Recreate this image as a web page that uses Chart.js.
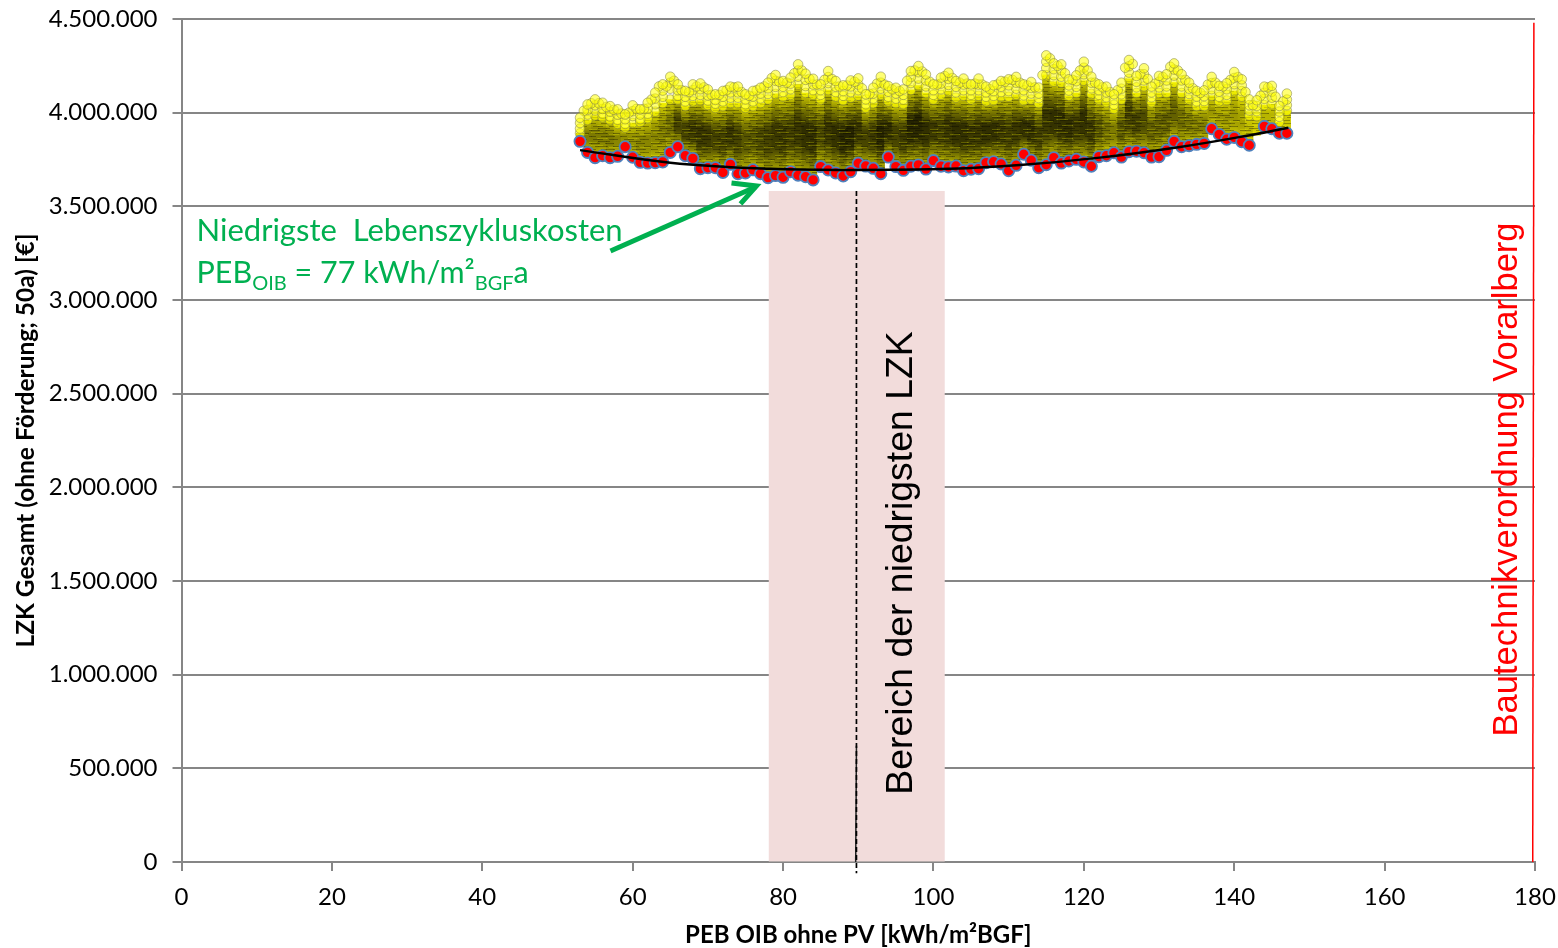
<!DOCTYPE html>
<html>
<head>
<meta charset="utf-8">
<title>LZK Gesamt</title>
<script src="https://cdn.jsdelivr.net/npm/chart.js@4"></script>
<style>
html,body{margin:0;padding:0;background:#fff;}
canvas{display:block;}
</style>
</head>
<body>
<canvas id="chart" width="1558" height="948"></canvas>
<script>
// ---------- Data (LZK values in thousand €) ----------

const yTickLabels = ["0","500.000","1.000.000","1.500.000","2.000.000","2.500.000","3.000.000","3.500.000","4.000.000","4.500.000"];

const cloudX = [53,54,55,56,57,58,59,60,61,62,63,64,65,66,67,68,69,70,71,72,73,74,75,76,77,78,79,80,81,82,83,84,85,86,87,88,89,90,91,92,93,94,95,96,97,98,99,100,101,102,103,104,105,106,107,108,109,110,111,112,113,114,115,116,117,118,119,120,121,122,123,124,125,126,127,128,129,130,131,132,133,134,135,136,137,138,139,140,141,142,143,144,145,146,147];

// lowest cost per PEB value, nothing found at 143
const minCost = [3847,3788,3760,3770,3760,3767,3818,3762,3735,3731,3733,3737,3788,3818,3770,3756,3701,3706,3706,3681,3724,3674,3678,3695,3674,
  3653,3664,3655,3685,3666,3658,3641,3712,3694,3678,3662,3685,3730,3715,3703,3674,3763,3712,3692,3714,3721,3699,3744,3714,3710,
  3715,3690,3698,3701,3733,3738,3726,3690,3719,3778,3746,3706,3722,3760,3731,3742,3751,3737,3714,3765,3770,3786,3763,3792,
  3794,3786,3763,3765,3799,3847,3818,3824,3831,3836,3914,3884,3858,3868,3845,3826,null,3927,3914,3890,3890];

// upper rim of the yellow cloud, topmost marker and the two rows under it
const cloudTop = [3973,4044,4071,4053,4035,4018,3991,4039,4018,4053,
  4107,4151,4192,4151,4116,4151,4156,4124,4098,4116,
  4139,4139,4098,4116,4133,4160,4201,4169,4187,4258,
  4208,4181,4151,4222,4169,4146,4172,4183,4098,4133,
  4192,4142,4133,4124,4222,4249,4204,4151,4187,4213,
  4169,4182,4151,4182,4139,4146,4169,4178,4191,4151,
  4164,4134,4306,4263,4258,4178,4199,4272,4192,4151,
  4139,4098,4160,4281,4196,4237,4139,4196,4205,4263,
  4205,4160,4116,4119,4191,4143,4157,4217,4178,4071,
  4066,4139,4143,4036,4102];
const cloudRow2 = [3945,4015,4040,4020,4005,3990,3965,4008,3990,4022,
  4075,4118,4160,4120,4085,4120,4125,4092,4068,4085,
  4108,4108,4070,4086,4102,4130,4170,4138,4155,4225,
  4175,4150,4120,4190,4138,4115,4140,4150,4070,4102,
  4160,4112,4102,4095,4190,4216,4172,4120,4155,4180,
  4138,4150,4120,4150,4108,4115,4138,4146,4160,4120,
  4132,4102,4272,4232,4226,4146,4168,4240,4160,4120,
  4108,4068,4128,4248,4165,4205,4108,4165,4172,4230,
  4172,4128,4086,4088,4158,4112,4125,4185,4146,4040,
  4036,4106,4112,4006,4070];
const cloudRow3 = [3915,3990,4012,3995,3980,3962,3940,3982,3965,3995,
  4045,4085,4128,4090,4060,4090,4095,4065,4048,4060,
  4080,4080,4045,4060,4076,4100,4138,4110,4125,4192,
  4142,4120,4095,4158,4110,4090,4110,4120,4045,4075,
  4128,4085,4075,4070,4158,4182,4140,4095,4125,4148,
  4108,4120,4095,4120,4085,4090,4110,4115,4128,4092,
  4102,4078,4238,4200,4192,4118,4138,4205,4130,4095,
  4082,4042,4098,4214,4135,4172,4082,4135,4140,4198,
  4140,4100,4060,4062,4125,4085,4095,4152,4115,4012,
  4008,4074,4080,3978,4040];

// rim between the whole-number columns
const cloudMidX = [53.5,54.5,55.5,56.5,57.5,58.5,59.5,60.5,61.5,62.5,63.5,64.5,65.5,66.5,67.5,68.5,69.5,70.5,71.5,72.5,73.5,74.5,75.5,76.5,77.5,78.5,79.5,80.5,81.5,82.5,83.5,84.5,85.5,86.5,87.5,88.5,89.5,90.5,91.5,92.5,93.5,94.5,95.5,96.5,97.5,98.5,99.5,100.5,101.5,102.5,103.5,104.5,105.5,106.5,107.5,108.5,109.5,110.5,111.5,112.5,113.5,114.5,115.5,116.5,117.5,118.5,119.5,120.5,121.5,122.5,123.5,124.5,125.5,126.5,127.5,128.5,129.5,130.5,131.5,132.5,133.5,134.5,135.5,136.5,137.5,138.5,139.5,140.5,141.5,142.5,143.5,144.5,145.5,146.5];
const cloudMid = [4010,4050,4050,4030,4015,3995,4000,4020,4020,4070,
  4140,4140,4170,4120,4110,4140,4135,4095,4095,4120,
  4135,4110,4090,4120,4140,4185,4165,4160,4210,4225,
  4180,4150,4175,4180,4140,4145,4165,4130,4100,4155,
  4150,4125,4115,4170,4225,4220,4165,4150,4195,4185,
  4160,4155,4155,4150,4125,4150,4165,4175,4160,4145,
  4135,4200,4290,4250,4210,4175,4225,4225,4160,4135,
  4110,4120,4240,4260,4205,4180,4155,4190,4245,4225,
  4175,4130,4105,4150,4160,4140,4175,4190,4110,4040,
  4090,4135,4085,4060];

// top of the densely packed part of the cloud
const cloudBody = [3890,3960,3985,3975,3960,3940,3920,3945,3950,3970,
  4005,4050,4070,4070,4035,4060,4065,4040,4025,4035,
  4050,4050,4025,4035,4050,4070,4100,4085,4095,4150,
  4105,4095,4070,4120,4085,4065,4080,4090,4025,4050,
  4095,4060,4050,4045,4120,4145,4105,4070,4095,4115,
  4080,4090,4070,4090,4060,4065,4085,4085,4095,4065,
  4070,4050,4200,4165,4160,4090,4105,4170,4100,4070,
  4055,4020,4070,4180,4105,4140,4055,4105,4105,4160,
  4105,4070,4035,4035,4090,4060,4065,4115,4085,3985,
  3980,4040,4045,3950,4010];

// how closely the variants overlap in each column, 0 to 1
const cloudDensity = [.5,.55,.55,.55,.55,.5,.45,.45,.5,.5,
  .5,.55,.6,.85,.85,.9,.9,.9,.85,.85,
  .9,.85,.75,.75,.8,.85,.9,.9,.85,.9,
  .95,.95,.8,.9,.95,1,1,.9,.85,.9,
  1,.95,.85,.9,1,1,.95,.9,.85,.9,
  .95,.95,.9,.9,.95,.95,.9,.85,.9,.95,
  .95,.85,.9,.95,.95,.95,.9,.95,.9,.75,
  .6,.55,.75,.85,.85,.8,.7,.7,.7,.7,
  .65,.6,.55,.55,.4,.4,.4,.4,.35,.25,
  .15,.25,.25,.15,.15];

const trendX = [53,65,78.3,88.9,102.2,111.5,122.1,132.8,142.1,147.2];
const trendY = [3800,3733,3700,3694,3700,3720,3760,3817,3880,3920];

const xTitle = "PEB OIB ohne PV [kWh/m²BGF]";
const yTitle = "LZK Gesamt (ohne Förderung; 50a) [€]";

// optimum range, limit line and its label
const rangeFrom = 78.1, rangeTo = 101.5, rangeTop = 3582;
const rangeLineX = [89.76,89.76], rangeLineY = [3582,-60];
const rangeCoreX = [89.76,89.66], rangeCoreY = [620,0];
const limitX = [179.85,179.7], limitY = [4480,0];

// ---------- Helpers ----------

const toPoints = (xs, ys) => xs.map((x, i) => ({x: x, y: ys[i] === null ? null : ys[i] * 1000}));

const cloudBottom = minCost.map(v => v === null ? 3880 : v);
const cloudBars = cloudX.map((x, i) => ({x: x, y: [cloudBottom[i] * 1000, cloudBody[i] * 1000]}));

function mix(t) {
  const a = [232, 228, 0], b = [36, 34, 0];
  return "rgb(" + a.map((c, i) => Math.round(c + (b[i] - c) * t)).join(",") + ")";
}

// one vertical gradient per column, darkest where the variants pile up
function cloudFill(ctx) {
  if (ctx.dataIndex === undefined) return "#d8d400";
  const scale = ctx.chart.scales.y;
  const i = ctx.dataIndex;
  const top = scale.getPixelForValue(cloudBody[i] * 1000);
  const bottom = scale.getPixelForValue(cloudBottom[i] * 1000);
  if (!isFinite(top) || !isFinite(bottom)) return "#d8d400";
  const g = ctx.chart.ctx.createLinearGradient(0, top, 0, bottom);
  const d = cloudDensity[i];
  g.addColorStop(0, mix(0.05));
  g.addColorStop(0.15, mix(d * 0.5));
  g.addColorStop(0.4, mix(d));
  g.addColorStop(0.65, mix(d * 0.95));
  g.addColorStop(0.85, mix(d * 0.55));
  g.addColorStop(1, mix(d * 0.2));
  return g;
}

// fine horizontal streaks left by the marker outlines
function streakPattern() {
  const c = document.createElement("canvas");
  c.width = 31; c.height = 13;
  const p = c.getContext("2d");
  p.fillStyle = "rgba(0,0,0,0.3)";
  p.fillRect(0, 0, 11, 1); p.fillRect(16, 0, 9, 1);
  p.fillRect(6, 3, 13, 1); p.fillRect(24, 3, 7, 1);
  p.fillRect(0, 6, 7, 1); p.fillRect(12, 6, 14, 1);
  p.fillRect(4, 9, 10, 1); p.fillRect(20, 9, 9, 1);
  p.fillRect(9, 11, 12, 1);
  p.fillStyle = "rgba(255,255,0,0.22)";
  p.fillRect(2, 2, 12, 1); p.fillRect(20, 4, 10, 1);
  p.fillRect(8, 8, 11, 1); p.fillRect(0, 12, 8, 1);
  return p.createPattern(c, "repeat");
}

function cloudMarkers(xs, ys, order) {
  return {
    type: "scatter",
    data: toPoints(xs, ys),
    order: order,
    pointRadius: 4.8,
    pointBackgroundColor: "rgba(255,255,0,0.55)",
    pointBorderColor: "rgba(120,120,70,0.5)",
    pointBorderWidth: 1
  };
}

// ---------- Annotations ----------

const annotations = {
  id: "annotations",
  beforeDatasetsDraw(chart) {
    const {ctx, scales: {x, y}} = chart;
    ctx.save();
    ctx.fillStyle = "#f2dcdb";
    const left = x.getPixelForValue(rangeFrom), top = y.getPixelForValue(rangeTop * 1000);
    ctx.fillRect(left, top, x.getPixelForValue(rangeTo) - left, y.getPixelForValue(3000) - top);
    ctx.restore();
  },
  afterDatasetsDraw(chart) {
    const {ctx, scales: {x, y}} = chart;
    ctx.save();

    // rotated labels
    ctx.textAlign = "center";
    ctx.textBaseline = "alphabetic";
    ctx.save();
    ctx.translate(x.getPixelForValue(97.1), y.getPixelForValue(1596000));
    ctx.rotate(-Math.PI / 2);
    ctx.fillStyle = "#000";
    ctx.font = "37.4px 'Liberation Sans'";
    ctx.fillText("Bereich der niedrigsten LZK", 0, 0);
    ctx.restore();
    ctx.save();
    ctx.translate(x.getPixelForValue(177.6), y.getPixelForValue(2042000));
    ctx.rotate(-Math.PI / 2);
    ctx.fillStyle = "#ff0000";
    ctx.font = "34.5px 'Liberation Sans'";
    ctx.fillText("Bautechnikverordnung Vorarlberg", 0, 0);
    ctx.restore();

    // green note
    ctx.textAlign = "left";
    ctx.fillStyle = "#00b050";
    const nx = x.getPixelForValue(2.0);
    const line1 = y.getPixelForValue(3315000), line2 = y.getPixelForValue(3090000);
    ctx.font = "31px Lato";
    ctx.fillText("Niedrigste  Lebenszykluskosten", nx, line1);
    let cx = nx;
    const put = (text, size, shift) => {
      ctx.font = size + "px Lato";
      ctx.fillText(text, cx, line2 + shift);
      cx += ctx.measureText(text).width;
    };
    put("PEB", 30.5, 0); put("OIB", 20, 7); put(" = 77 kWh/m²", 30.5, 0); put("BGF", 20, 7); put("a", 30.5, 0);

    // green arrow to the minimum
    const sx = x.getPixelForValue(57.05), sy = y.getPixelForValue(3262000);
    const tx = x.getPixelForValue(76.6), ty = y.getPixelForValue(3609000);
    ctx.strokeStyle = "#00b050";
    ctx.lineWidth = 5;
    ctx.beginPath();
    ctx.moveTo(sx, sy); ctx.lineTo(tx - 2, ty + 1);
    ctx.stroke();
    ctx.lineJoin = "miter";
    ctx.beginPath();
    ctx.moveTo(tx - 26, ty - 3); ctx.lineTo(tx - 1, ty); ctx.lineTo(tx - 17, ty + 18);
    ctx.stroke();
    ctx.restore();
  }
};

// ---------- Chart ----------

new Chart(document.getElementById("chart"), {
  type: "scatter",
  data: {
    datasets: [
      {
        type: "line",
        data: toPoints(trendX, trendY),
        order: 0,
        borderColor: "#000",
        borderWidth: 2.5,
        pointRadius: 0,
        tension: 0.4
      },
      {
        type: "scatter",
        data: toPoints(cloudX, minCost),
        order: 1,
        pointRadius: 5.6,
        pointBackgroundColor: "#ff0000",
        pointBorderColor: "#4f81bd",
        pointBorderWidth: 1.8
      },
      cloudMarkers(cloudX, cloudTop, 2),
      cloudMarkers(cloudMidX, cloudMid, 3),
      cloudMarkers(cloudX, cloudRow2, 4),
      cloudMarkers(cloudX, cloudRow3, 5),
      cloudMarkers(cloudX, cloudBody, 6),
      {
        type: "bar",
        data: cloudBars,
        order: 7,
        backgroundColor: streakPattern(),
        barPercentage: 1,
        categoryPercentage: 1,
        grouped: false
      },
      {
        type: "bar",
        data: cloudBars,
        order: 8,
        backgroundColor: cloudFill,
        barPercentage: 1,
        categoryPercentage: 1,
        grouped: false
      },
      {
        type: "line",
        data: toPoints(rangeLineX, rangeLineY),
        order: 9,
        borderColor: "#000",
        borderWidth: 1.7,
        borderDash: [5, 3],
        pointRadius: 0,
        clip: false
      },
      {
        type: "line",
        data: toPoints(rangeCoreX, rangeCoreY),
        order: 9,
        borderColor: "#222",
        borderWidth: 1.5,
        pointRadius: 0
      },
      {
        type: "line",
        data: toPoints(limitX, limitY),
        order: 9,
        borderColor: "#ff0000",
        borderWidth: 1.5,
        pointRadius: 0,
        clip: false
      }
    ]
  },
  options: {
    responsive: false,
    animation: false,
    layout: {padding: {top: 19, right: 23, bottom: 0, left: 0}},
    plugins: {legend: {display: false}, tooltip: {enabled: false}},
    scales: {
      x: {
        type: "linear",
        min: 0,
        max: 180,
        offset: false,
        afterFit(scale) { scale.height = 86; scale.paddingLeft = 0; scale.paddingRight = 0; },
        border: {color: "#868686", width: 2},
        grid: {offset: false, drawOnChartArea: false, color: "#868686", lineWidth: 2, tickLength: 9},
        ticks: {stepSize: 20, color: "#000", font: {family: "Lato", size: 24}, padding: 12, maxRotation: 0},
        title: {display: true, text: xTitle, color: "#000", font: {family: "Lato", size: 24, weight: "bold"}, padding: {top: 0, bottom: -2}}
      },
      y: {
        min: 0,
        max: 4500000,
        afterFit(scale) { scale.width = 181.5; scale.paddingTop = 0; scale.paddingBottom = 0; },
        border: {color: "#868686", width: 2},
        grid: {color: "#868686", lineWidth: 2, tickLength: 9},
        ticks: {
          stepSize: 500000,
          color: "#000",
          font: {family: "Lato", size: 24},
          padding: 15,
          callback: (value, index) => yTickLabels[index]
        },
        title: {display: true, text: yTitle, color: "#000", font: {family: "Lato", size: 24.5, weight: "bold"}, padding: {top: 11, bottom: 0}}
      }
    }
  },
  plugins: [annotations]
});
</script>
</body>
</html>
